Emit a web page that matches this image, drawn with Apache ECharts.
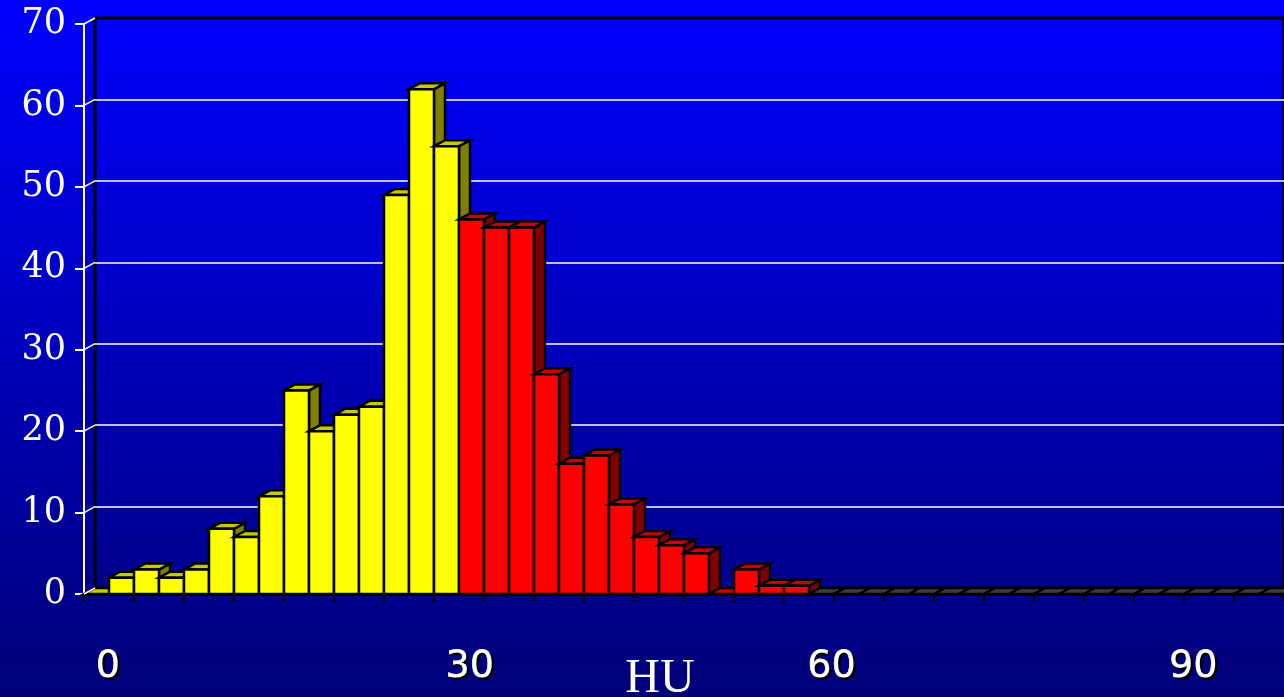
<!DOCTYPE html>
<html>
<head>
<meta charset="utf-8">
<script src="https://cdn.jsdelivr.net/npm/echarts@6/dist/echarts.min.js"></script>
<style>
  html, body { margin: 0; padding: 0; background: #00007a; }
  #chart { width: 1284px; height: 697px; }
</style>
</head>
<body>
<div id="chart"></div>
<script>
// Histogram of attenuation values, 2 HU per bin.
const yellowCounts = [0, 2, 3, 2, 3, 8, 7, 12, 25, 20, 22, 23, 49, 62, 55];
const redCounts = [46, 45, 45, 27, 16, 17, 11, 7, 6, 5, 0, 3, 1, 1];
const emptyCounts = [0, 0, 0, 0, 0, 0, 0, 0, 0, 0, 0, 0, 0, 0, 0, 0, 0, 0, 0];
const yTicks = [0, 10, 20, 30, 40, 50, 60, 70];
const huTickLabels = [0, 30, 60, 90];
const axisTitle = 'HU';

// Face colours per group: front, top, side
const palettes = [
  { front: '#ffff00', top: '#c8c800', side: '#808000' },
  { front: '#ff0000', top: '#c80000', side: '#800000' },
  { front: '#3a3a3a', top: '#3c3c3c', side: '#202020' }
];

const counts = yellowCounts.concat(redCounts, emptyCounts);
const groupOf = [].concat(
  yellowCounts.map(() => 0),
  redCounts.map(() => 1),
  emptyCounts.map(() => 2)
);
const categories = counts.map((_, i) => 'bin' + i);
const barData = counts.map((v, i) => [i, v, groupOf[i]]);

// 3D depth of the boxes (pixels)
const DX = 11, DY = 6;
const edge = { stroke: '#000', lineWidth: 2.5, lineJoin: 'miter' };

function renderBox(params, api) {
  const i = api.value(0);
  const v = api.value(1);
  const pal = palettes[api.value(2)];
  const base = api.coord([i, 0]);
  const top = api.coord([i, v]);
  const w = api.size([1, 0])[0];
  const l = base[0] - w / 2, r = base[0] + w / 2;
  const yb = base[1], yt = top[1];
  const children = [];
  if (v > 0) {
    children.push({
      type: 'polygon',
      shape: { points: [[r, yt], [r + DX, yt - DY], [r + DX, yb - DY], [r, yb]] },
      style: Object.assign({ fill: pal.side }, edge)
    });
  }
  children.push({
    type: 'polygon',
    shape: { points: [[l, yt], [l + DX, yt - DY], [r + DX, yt - DY], [r, yt]] },
    style: Object.assign({ fill: pal.top }, edge)
  });
  if (v > 0) {
    children.push({
      type: 'rect',
      shape: { x: l, y: yt, width: w, height: yb - yt },
      style: Object.assign({ fill: pal.front }, edge)
    });
  }
  return { type: 'group', children: children };
}

// Short diagonals joining the front value ticks to the back wall
function renderTickLink(params, api) {
  const p = api.coord([0, api.value(1)]);
  const w = api.size([1, 0])[0];
  const x = p[0] - w / 2;
  return {
    type: 'line',
    shape: { x1: x, y1: p[1], x2: x + DX, y2: p[1] - DY },
    style: { stroke: '#ffffff', lineWidth: 1.5 }
  };
}

const chart = echarts.init(document.getElementById('chart'), null, { renderer: 'canvas' });

chart.setOption({
  animation: false,
  backgroundColor: {
    type: 'linear', x: 0, y: 0, x2: 0, y2: 1,
    colorStops: [
      { offset: 0, color: '#0000ff' },
      { offset: 1, color: '#000078' }
    ]
  },
  grid: [
    { left: 84, top: 24, width: 1202, height: 570, containLabel: false },
    {
      left: 95, top: 18, width: 1202, height: 570, containLabel: false,
      show: true, backgroundColor: 'transparent', borderColor: '#000', borderWidth: 3
    }
  ],
  xAxis: [
    {
      type: 'category', gridIndex: 0, data: categories, position: 'bottom',
      axisLine: { show: true, onZero: false, lineStyle: { color: '#000', width: 3 } },
      axisTick: { show: true, length: 8, lineStyle: { color: '#000', width: 2 } },
      axisLabel: { show: false },
      splitLine: { show: false }
    },
    {
      type: 'value', gridIndex: 0, position: 'bottom', min: -2, max: 97.5,
      axisLine: { show: false, onZero: false }, axisTick: { show: false }, splitLine: { show: false },
      axisLabel: {
        customValues: huTickLabels,
        color: '#ffffff', fontFamily: 'DejaVu Sans', fontSize: 38, margin: 54,
        textBorderColor: '#ffffff', textBorderWidth: 0.8,
        textShadowColor: '#000000', textShadowOffsetX: 2, textShadowOffsetY: 2, textShadowBlur: 1
      }
    },
    { type: 'category', gridIndex: 1, data: categories, show: false }
  ],
  yAxis: [
    {
      type: 'value', gridIndex: 0, min: 0, max: 70, interval: 10,
      axisLine: { show: true, onZero: false, lineStyle: { color: '#ffffff', width: 2 } },
      axisTick: { show: true, length: 9, lineStyle: { color: '#ffffff', width: 2 } },
      axisLabel: { color: '#ffffff', fontFamily: 'DejaVu Serif', fontSize: 35, margin: 18 },
      splitLine: { show: false }
    },
    {
      type: 'value', gridIndex: 1, min: 0, max: 70, interval: 10,
      axisLine: { show: false, onZero: false }, axisTick: { show: false }, axisLabel: { show: false },
      splitLine: {
        show: true, showMinLine: false, showMaxLine: false,
        lineStyle: { color: '#ffffff', width: 1.5 }
      }
    }
  ],
  series: [
    {
      type: 'custom', xAxisIndex: 0, yAxisIndex: 0,
      renderItem: renderTickLink,
      data: yTicks.map(v => [0, v]),
      silent: true, z: 3
    },
    {
      type: 'custom', xAxisIndex: 0, yAxisIndex: 0,
      renderItem: renderBox,
      data: barData,
      clip: false, silent: true, z: 2
    }
  ],
  graphic: [
    {
      type: 'text', x: 660, y: 679,
      style: {
        text: axisTitle, fill: '#ffffff',
        font: '48px "Liberation Serif"',
        align: 'center', verticalAlign: 'middle'
      }
    }
  ]
});
</script>
</body>
</html>
